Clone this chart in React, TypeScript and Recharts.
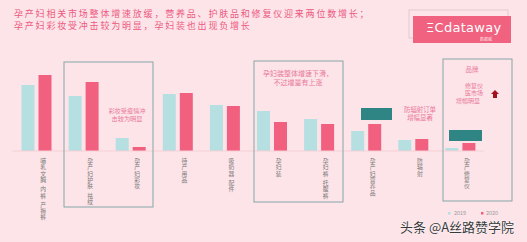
import React from 'react';
import { BarChart, Bar, XAxis, YAxis } from 'recharts';

const categories = ['哺乳文胸 内裤 产褥裤', '孕产妇护肤 祛纹', '孕产妇彩妆', '待产用品', '吸奶器 配件', '孕妇装', '孕妇裤 托腹裤', '孕产妇营养品', '防辐射', '孕产修复仪'];
const values2019 = [66, 55, 13, 57, 46, 40, 32, 20, 11, 3];
const values2020 = [76, 69, 4, 58, 45, 29, 27, 27, 12, 8];
const seriesNames = ['2019', '2020'];

const data = categories.map((c, i) => ({ name: c, v2019: values2019[i], v2020: values2020[i] }));

const BG = '#fde4e9';
const C2019 = '#b5dfe0';
const C2020 = '#f2607f';
const TEAL = '#2e8584';
const BOX = '#86a6a7';
const PINK_TXT = '#e9799a';

const VTick = (props: any) => {
  const { x, y, payload } = props;
  const chars = String(payload.value).split('');
  const cx = x + 7;
  let cy = y + 12;
  const items: any[] = [];
  chars.forEach((c, i) => {
    if (c === ' ') { cy += 3; return; }
    items.push(
      <text key={i} x={cx} y={cy} fontSize={5.8} fill="#7a7a7a" textAnchor="middle" fontFamily="Noto Sans CJK SC">{c}</text>
    );
    cy += 6.3;
  });
  return <g>{items}</g>;
};

const txt = (x: number, y: number, s: string, size: number, color: string, anchor: any = 'middle') => (
  <text x={x} y={y} fontSize={size} fill={color} textAnchor={anchor} dominantBaseline="middle" fontFamily="Noto Sans CJK SC">{s}</text>
);

export default function App() {
  return (
    <div style={{ position: 'absolute', left: 0, top: 0, width: 527, height: 242, background: BG, overflow: 'hidden' }}>
      <div style={{ position: 'absolute', left: 0, top: 0 }}>
        <BarChart width={527} height={242} data={data} margin={{ top: 51, right: 43.5, bottom: 11, left: 12.5 }} barGap={4} barSize={13}>
          <YAxis hide domain={[0, 100]} />
          <XAxis dataKey="name" height={80} tickLine={false} tickSize={0} tickMargin={0} axisLine={{ stroke: '#f3cfd6' }} interval={0} tick={<VTick />} />
          <Bar dataKey="v2019" name={seriesNames[0]} fill={C2019} isAnimationActive={false} />
          <Bar dataKey="v2020" name={seriesNames[1]} fill={C2020} isAnimationActive={false} />
        </BarChart>
      </div>
      <svg width={527} height={242} style={{ position: 'absolute', left: 0, top: 0, pointerEvents: 'none' }}>
        {/* title */}
        <text x={14} y={14.5} fontSize={9} letterSpacing={1.8} fill="#ec5a80" dominantBaseline="middle" fontFamily="Noto Sans CJK SC">孕产妇相关市场整体增速放缓，营养品、护肤品和修复仪迎来两位数增长；</text>
        <text x={14} y={26.5} fontSize={9} letterSpacing={1.8} fill="#ec5a80" dominantBaseline="middle" fontFamily="Noto Sans CJK SC">孕产妇彩妆受冲击较为明显，孕妇装也出现负增长</text>
        {/* logo */}
        <rect x={409} y={10} width={99} height={28} fill="none" stroke="#d8c6ca" strokeWidth={0.8} />
        <rect x={413} y={16} width={98} height={27} fill="#f0627f" />
        <text x={426} y={28.5} fontSize={13} fill="#ffffff" dominantBaseline="middle" fontFamily="DejaVu Sans" letterSpacing={0.3}>ΞCdataway</text>
        {txt(486, 39.5, '数据威', 4, '#ffe0e6')}
        {/* boxes */}
        <rect x={64} y={62} width={89} height={145} fill="none" stroke={BOX} strokeWidth={1} />
        <rect x={254} y={61} width={89} height={141} fill="none" stroke={BOX} strokeWidth={1} />
        <rect x={443} y={59} width={69} height={142} fill="none" stroke={BOX} strokeWidth={1} />
        {/* teal highlights */}
        <rect x={361} y={108} width={31} height={12} fill={TEAL} />
        <rect x={449} y={130} width={33} height={11} fill={TEAL} />
        {/* annotations */}
        {txt(127, 111, '彩妆受疫情冲', 6.2, PINK_TXT)}
        {txt(127, 119, '击较为明显', 6.2, PINK_TXT)}
        {txt(298, 74, '孕妇装整体增速下滑，', 7, PINK_TXT)}
        {txt(298, 83, '不过增量有上涨', 7, PINK_TXT)}
        {txt(420, 110, '防辐射订单', 6.4, PINK_TXT)}
        {txt(420, 118, '增幅显著', 6.4, PINK_TXT)}
        {txt(472, 70, '品牌', 6.4, PINK_TXT)}
        {txt(474, 86, '修复仪', 6, PINK_TXT)}
        {txt(474, 93.5, '医市场', 6, PINK_TXT)}
        {txt(468, 101, '增幅明显', 6, PINK_TXT)}
        <path d="M495 90 L499 94 L497 94 L497 98 L493 98 L493 94 L491 94 Z" fill="#a3111d" />
        {/* legend */}
        <rect x={448} y={212} width={2.5} height={2.5} fill={C2019} />
        {txt(460, 213.5, seriesNames[0], 5.5, '#9a9a9a')}
        <rect x={481} y={212} width={2.5} height={2.5} fill={C2020} />
        {txt(492, 213.5, seriesNames[1], 5.5, '#9a9a9a')}
        {/* watermark */}
        <text x={400} y={228} fontSize={13} fill="#3a3a3a" stroke="#ffffff" strokeWidth={0.6} paintOrder="stroke" dominantBaseline="middle" fontFamily="Noto Sans CJK SC">头条 @A丝路赞学院</text>
      </svg>
    </div>
  );
}
